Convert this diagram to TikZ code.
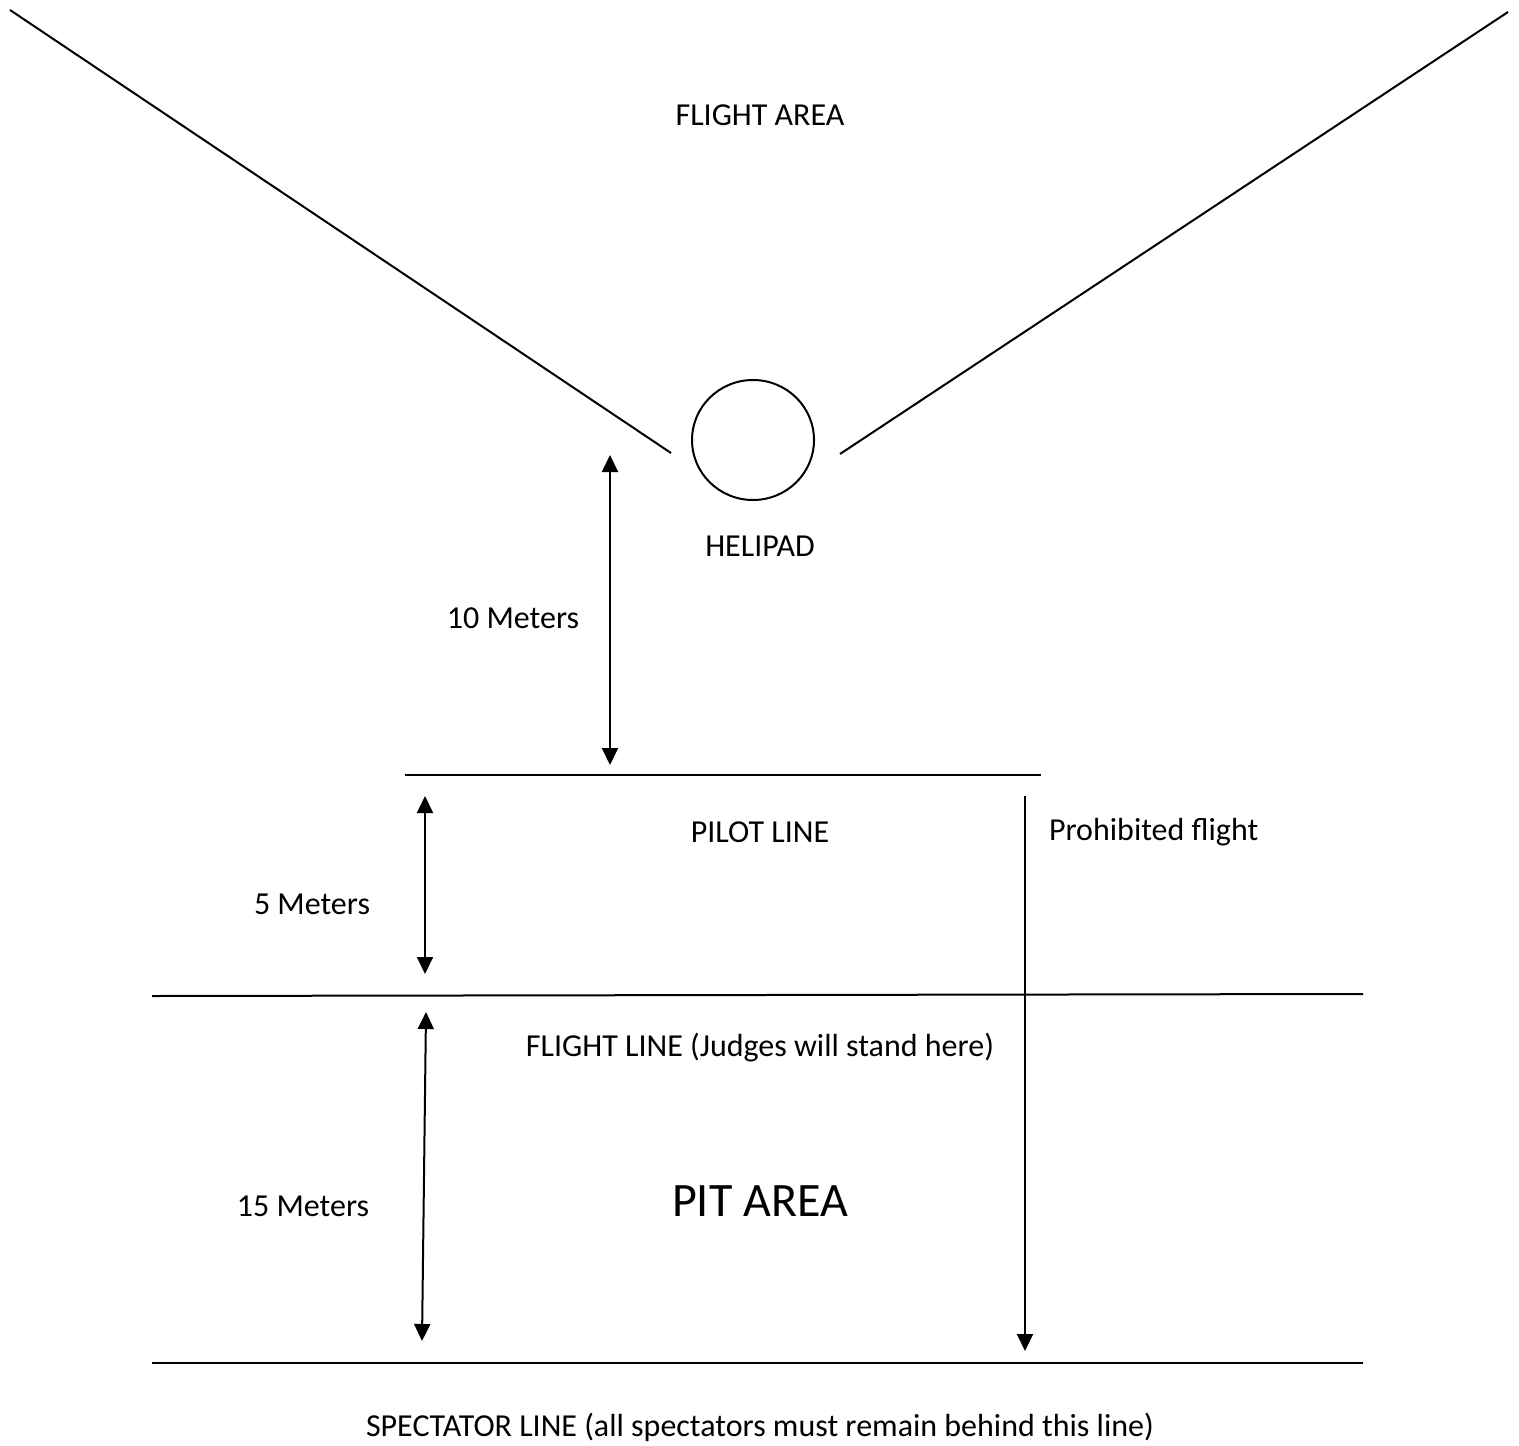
\documentclass[tikz,border=0pt]{standalone}
\usepackage{fontspec}
\setmainfont{Carlito}
\usetikzlibrary{arrows.meta}
\tikzset{
  lbl/.style={font=\fontsize{16}{19}\selectfont, inner sep=0pt},
  biglbl/.style={font=\fontsize{24}{28}\selectfont, inner sep=0pt},
  dimline/.style={line width=1pt, {Triangle[width=8pt,length=8.5pt]}-{Triangle[width=8pt,length=8.5pt]}},
  downline/.style={line width=1pt, -{Triangle[width=8pt,length=8.5pt]}}
}
\begin{document}
\begin{tikzpicture}[x=0.5pt, y=-0.5pt, line width=1pt]
      \useasboundingbox (0,0) rectangle (1519,1445);
      % flight area boundary
      \draw(10,10) -- (671,453);
      \draw(840,454) -- (1508,12);
      \draw(753,440) ellipse [x radius=61, y radius=60];
      %
      % field lines
      \coordinate (pilotL) at (405,775);
      \coordinate (pilotR) at (1041,775);
      \coordinate (flightL) at (152,996);
      \coordinate (flightR) at (1363,994);
      \coordinate (specL) at (152,1363);
      \coordinate (specR) at (1363,1363);
      \draw (pilotL) -- (pilotR);
      \draw (flightL) -- (flightR);
      \draw (specL) -- (specR);
      %
      % distances
      \coordinate (tenTop) at (610,455);
      \coordinate (tenBot) at (610,765);
      \coordinate (fiveTop) at (425,796);
      \coordinate (fiveBot) at (425,974);
      \coordinate (fifTop) at (426,1012);
      \coordinate (fifBot) at (422,1341);
      \coordinate (probTop) at (1025,796);
      \coordinate (probBot) at (1025,1351);
      \draw[dimline] (tenTop) -- (tenBot);
      \draw[dimline] (fiveTop) -- (fiveBot);
      \draw[dimline] (fifTop) -- (fifBot);
      \draw[downline] (probTop) -- (probBot);
      %
      \node[lbl] (flightarea) at (760,115) {FLIGHT AREA};
      \node[lbl] (helipad) at (760,546) {HELIPAD};
      \node[lbl] (ten) at (513,618) {10 Meters};
      \node[lbl] (pilotline) at (760,832) {PILOT LINE};
      \node[lbl, anchor=west] (prohibited) at (1048,832) {Prohibited flight};
      \node[lbl] (five) at (312,904) {5 Meters};
      \node[lbl] (flightline) at (760,1048) {FLIGHT LINE (Judges will stand here)};
      \node[biglbl] (pitarea) at (760,1201) {PIT AREA};
      \node[lbl] (fifteen) at (303,1206) {15 Meters};
      \node[lbl] (spectator) at (760,1427) {SPECTATOR LINE (all spectators must remain behind this line)};
      %
    \end{tikzpicture}
\end{document}
